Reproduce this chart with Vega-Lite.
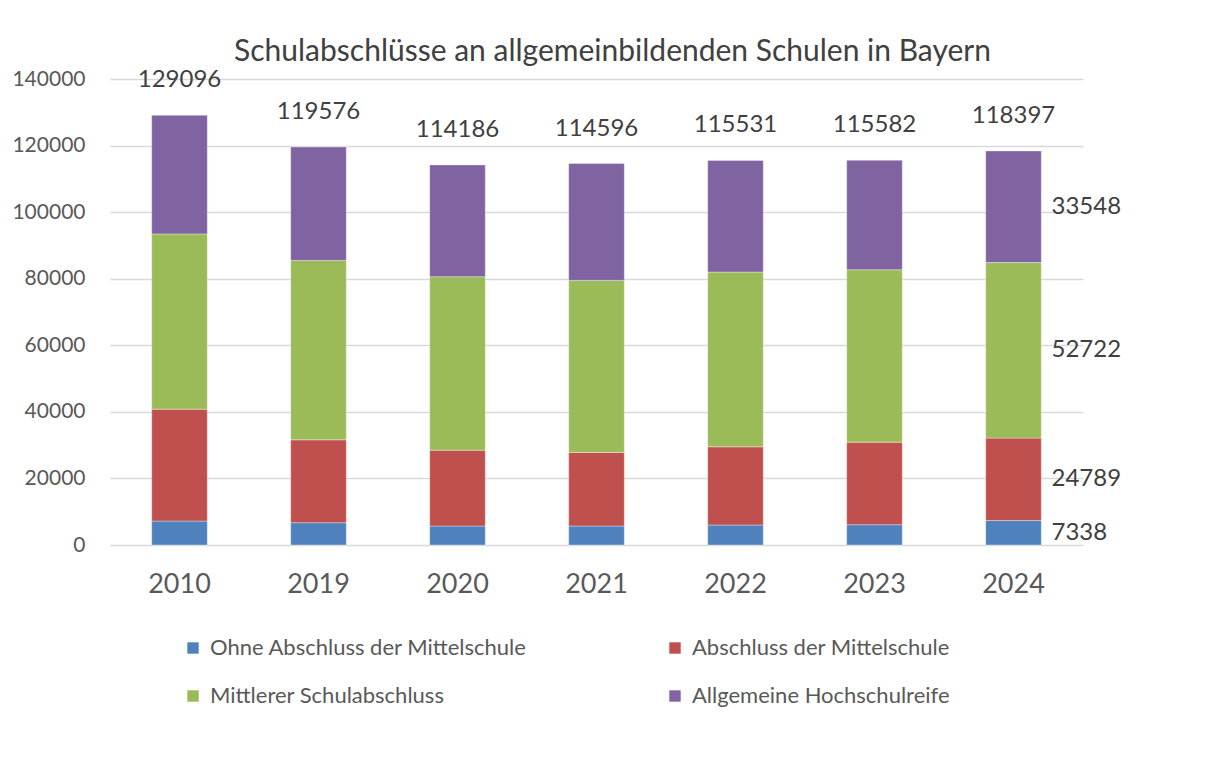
{
  "$schema": "https://vega.github.io/schema/vega-lite/v6.json",
  "autosize": "none",
  "width": 973,
  "height": 466,
  "padding": {"left": 110, "top": 79, "right": 131, "bottom": 213},
  "background": "white",
  "config": {
    "font": "Lato",
    "view": {"stroke": null}
  },
  "title": {
    "text": "Schulabschlüsse an allgemeinbildenden Schulen in Bayern",
    "fontSize": 30,
    "fontWeight": "normal",
    "color": "#404040",
    "offset": 1,
    "dx": 16
  },
  "data": {
    "values": [
      {"year": "2010", "category": "Ohne Abschluss der Mittelschule", "ord": 1, "value": 7200},
      {"year": "2010", "category": "Abschluss der Mittelschule", "ord": 2, "value": 33600},
      {"year": "2010", "category": "Mittlerer Schulabschluss", "ord": 3, "value": 52650},
      {"year": "2010", "category": "Allgemeine Hochschulreife", "ord": 4, "value": 35646},
      {"year": "2019", "category": "Ohne Abschluss der Mittelschule", "ord": 1, "value": 6700},
      {"year": "2019", "category": "Abschluss der Mittelschule", "ord": 2, "value": 24900},
      {"year": "2019", "category": "Mittlerer Schulabschluss", "ord": 3, "value": 53900},
      {"year": "2019", "category": "Allgemeine Hochschulreife", "ord": 4, "value": 34076},
      {"year": "2020", "category": "Ohne Abschluss der Mittelschule", "ord": 1, "value": 5700},
      {"year": "2020", "category": "Abschluss der Mittelschule", "ord": 2, "value": 22800},
      {"year": "2020", "category": "Mittlerer Schulabschluss", "ord": 3, "value": 52100},
      {"year": "2020", "category": "Allgemeine Hochschulreife", "ord": 4, "value": 33586},
      {"year": "2021", "category": "Ohne Abschluss der Mittelschule", "ord": 1, "value": 5700},
      {"year": "2021", "category": "Abschluss der Mittelschule", "ord": 2, "value": 22100},
      {"year": "2021", "category": "Mittlerer Schulabschluss", "ord": 3, "value": 51700},
      {"year": "2021", "category": "Allgemeine Hochschulreife", "ord": 4, "value": 35096},
      {"year": "2022", "category": "Ohne Abschluss der Mittelschule", "ord": 1, "value": 6000},
      {"year": "2022", "category": "Abschluss der Mittelschule", "ord": 2, "value": 23500},
      {"year": "2022", "category": "Mittlerer Schulabschluss", "ord": 3, "value": 52500},
      {"year": "2022", "category": "Allgemeine Hochschulreife", "ord": 4, "value": 33531},
      {"year": "2023", "category": "Ohne Abschluss der Mittelschule", "ord": 1, "value": 6100},
      {"year": "2023", "category": "Abschluss der Mittelschule", "ord": 2, "value": 24800},
      {"year": "2023", "category": "Mittlerer Schulabschluss", "ord": 3, "value": 51800},
      {"year": "2023", "category": "Allgemeine Hochschulreife", "ord": 4, "value": 32882},
      {"year": "2024", "category": "Ohne Abschluss der Mittelschule", "ord": 1, "value": 7338},
      {"year": "2024", "category": "Abschluss der Mittelschule", "ord": 2, "value": 24789},
      {"year": "2024", "category": "Mittlerer Schulabschluss", "ord": 3, "value": 52722},
      {"year": "2024", "category": "Allgemeine Hochschulreife", "ord": 4, "value": 33548}
    ]
  },
  "encoding": {
    "x": {
      "field": "year",
      "type": "ordinal",
      "scale": {"paddingInner": 0.6, "paddingOuter": 0.3},
      "axis": {
        "title": null,
        "labelAngle": 0,
        "ticks": false,
        "domain": false,
        "grid": false,
        "labelFontSize": 27,
        "labelColor": "#595959",
        "labelPadding": 26
      }
    }
  },
  "layer": [
    {
      "mark": {"type": "bar", "stroke": "white", "strokeOpacity": 0.35, "strokeWidth": 1},
      "encoding": {
        "y": {
          "field": "value",
          "type": "quantitative",
          "stack": "zero",
          "scale": {"domain": [0, 140000], "nice": false},
          "axis": {
            "title": null,
            "values": [0, 20000, 40000, 60000, 80000, 100000, 120000, 140000],
            "format": "d",
            "ticks": false,
            "domain": false,
            "gridColor": "#d9d9d9",
            "gridWidth": 1.5,
            "labelFontSize": 21,
            "labelColor": "#595959",
            "labelPadding": 25
          }
        },
        "color": {
          "field": "category",
          "type": "nominal",
          "scale": {
            "domain": ["Ohne Abschluss der Mittelschule", "Abschluss der Mittelschule", "Mittlerer Schulabschluss", "Allgemeine Hochschulreife"],
            "range": ["#4F81BD", "#C0504D", "#9BBB59", "#8064A2"]
          },
          "legend": {
            "title": null,
            "orient": "none",
            "legendX": 72,
            "legendY": 558,
            "columns": 2,
            "direction": "horizontal",
            "symbolType": "square",
            "symbolSize": 130,
            "symbolStrokeWidth": 0,
            "labelFontSize": 22,
            "labelColor": "#595959",
            "labelOffset": 6,
            "columnPadding": 136,
            "rowPadding": 26,
            "labelLimit": 500
          }
        },
        "order": {"field": "ord", "type": "quantitative"}
      }
    },
    {
      "transform": [
        {"aggregate": [{"op": "sum", "field": "value", "as": "total"}], "groupby": ["year"]}
      ],
      "mark": {"type": "text", "fontSize": 24, "color": "#404040", "baseline": "middle", "dy": -35},
      "encoding": {
        "y": {"field": "total", "type": "quantitative"},
        "text": {"field": "total", "type": "quantitative", "format": "d"}
      }
    },
    {
      "transform": [
        {"filter": "datum.year === '2024'"},
        {"stack": "value", "groupby": ["year"], "sort": [{"field": "ord"}], "as": ["y0", "y1"]},
        {"calculate": "(datum.y0 + datum.y1) / 2", "as": "mid"}
      ],
      "mark": {"type": "text", "fontSize": 24, "color": "#404040", "align": "left", "baseline": "middle", "dx": 38},
      "encoding": {
        "y": {"field": "mid", "type": "quantitative"},
        "text": {"field": "value", "type": "quantitative", "format": "d"}
      }
    }
  ]
}
